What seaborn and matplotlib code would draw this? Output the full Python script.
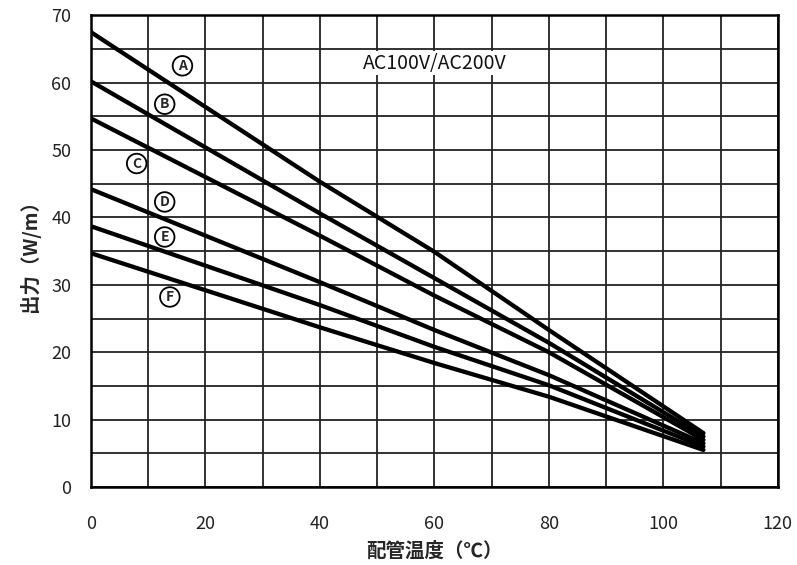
import pandas as pd
import seaborn as sns
import matplotlib.pyplot as plt

# temperature points (°C) and output (W/m)
temps = [0, 40, 60, 80, 107]
out_a = [67.5, 45.3, 34.9, 23.3, 8.0]
out_b = [60.2, 40.6, 31.0, 21.4, 7.5]
out_c = [54.7, 37.3, 28.4, 20.0, 7.0]
out_d = [44.2, 30.4, 23.3, 16.6, 6.5]
out_e = [38.7, 27.0, 20.8, 15.1, 6.0]
out_f = [34.7, 23.7, 18.4, 13.4, 5.5]
series_names = ['A', 'B', 'C', 'D', 'E', 'F']

# where the circled letters sit
label_x = [16, 12.9, 8, 12.9, 12.9, 13.8]
label_y = [62.5, 56.8, 48, 42.3, 37.1, 28.2]

x_ticks = [0, 20, 40, 60, 80, 100, 120]


def main():
    sns.set_style('white')
    plt.rcParams['font.family'] = ['Noto Sans CJK JP', 'DejaVu Sans']

    values = [out_a, out_b, out_c, out_d, out_e, out_f]
    rows = []
    for name, vals in zip(series_names, values):
        for t, v in zip(temps, vals):
            rows.append({'temp': t, 'out': v, 'line': name})
    df = pd.DataFrame(rows)

    fig = plt.figure(figsize=(7.97, 5.65), dpi=100)
    ax = fig.add_axes([0.114, 0.138, 0.862, 0.835])

    sns.lineplot(data=df, x='temp', y='out', hue='line',
                 palette=['black'] * len(series_names), linewidth=3.1,
                 legend=False, ax=ax, zorder=3)

    ax.set_xlim(0, 120)
    ax.set_ylim(0, 70)
    ax.grid(True, color='#222222', linewidth=1.3)
    ax.tick_params(length=0, labelsize=13, colors='#222222')
    ax.set_xticks(x_ticks + [10, 30, 50, 70, 90, 110])
    ax.set_xticklabels([str(t) for t in x_ticks] + [''] * 6)
    ax.set_yticks([v for v in range(0, 71, 5)])
    ax.set_yticklabels([str(v) if v % 10 == 0 else '' for v in range(0, 71, 5)])
    ax.tick_params(axis='x', pad=20)
    ax.tick_params(axis='y', pad=14)
    for s in ax.spines.values():
        s.set_color('black')
        s.set_linewidth(1.8)

    for name, lx, ly in zip(series_names, label_x, label_y):
        ax.text(lx, ly, name, ha='center', va='center', fontsize=10,
                fontweight='bold', zorder=4,
                bbox=dict(boxstyle='circle,pad=0.2', fc='white',
                          ec='black', lw=1.3))

    ax.text(60, 62.9, 'AC100V/AC200V', ha='center', va='center',
            fontsize=14, color='#111111', zorder=4,
            bbox=dict(fc='white', ec='none', pad=1))

    ax.set_xlabel('配管温度（℃）', fontsize=14, fontweight='bold', labelpad=6)
    ax.set_ylabel('出力（W/m）', fontsize=14, fontweight='bold', labelpad=8)

    fig.savefig('out.png', dpi=100)


if __name__ == '__main__':
    main()
